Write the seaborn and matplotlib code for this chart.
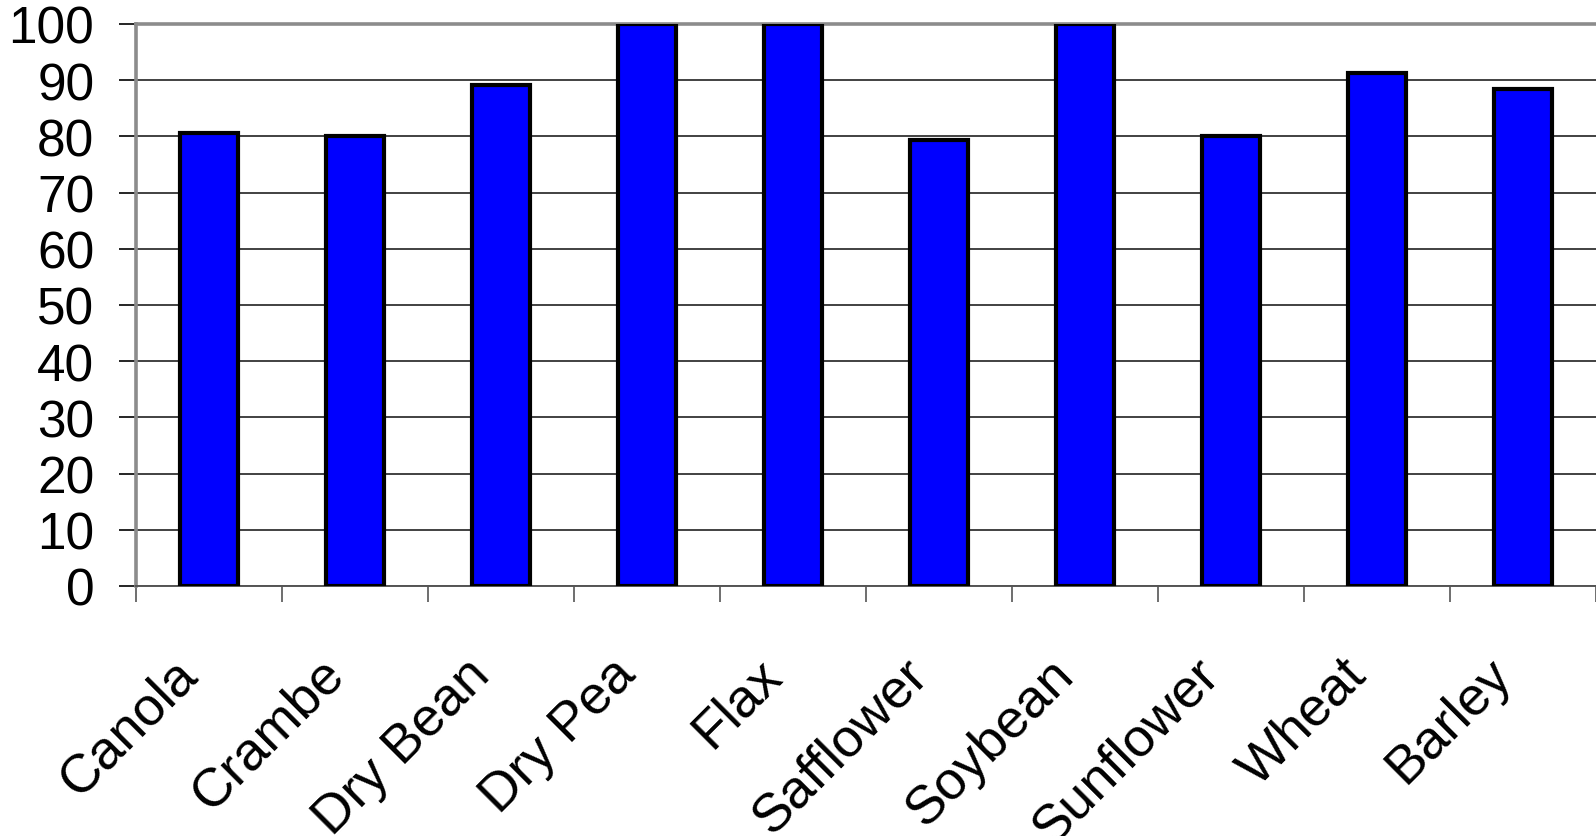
import matplotlib
matplotlib.use("Agg")
import numpy as np
import pandas as pd
import seaborn as sns
import matplotlib.pyplot as plt
from matplotlib.transforms import ScaledTranslation

# 数据
crops = ["Canola", "Crambe", "Dry Bean", "Dry Pea", "Flax",
         "Safflower", "Soybean", "Sunflower", "Wheat", "Barley"]
values = [80.6, 80.0, 89.1, 100, 100, 79.3, 100, 80.0, 91.3, 88.5]
y_ticks = list(range(0, 101, 10))

df = pd.DataFrame({"crop": crops, "value": values})

sns.set_style("white")
plt.rcParams["font.family"] = ["Liberation Sans", "DejaVu Sans"]
plt.rcParams["text.color"] = "black"

fig = plt.figure(figsize=(15.96, 8.37), dpi=100)
ax = fig.add_axes([136 / 1596, 1 - 587 / 837, 1 - 136 / 1596, (587 - 25) / 837])

sns.barplot(data=df, x="crop", y="value", color="#0000FF", saturation=1,
            edgecolor="black", linewidth=3.0, width=0.4, ax=ax, zorder=3)

ax.set_xlim(-0.5, len(crops) - 0.5)
ax.set_ylim(0, 100)
ax.set_yticks(y_ticks)
ax.set_xlabel("")
ax.set_ylabel("")

# 网格线
ax.yaxis.grid(True, color="#333333", linewidth=1.3, zorder=0)
ax.xaxis.grid(False)
ax.set_axisbelow(True)

# 边框
for s in ["left", "top"]:
    ax.spines[s].set_color("#8c8c8c")
    ax.spines[s].set_linewidth(2.6)
ax.spines["bottom"].set_color("#555555")
ax.spines["bottom"].set_linewidth(1.4)
ax.spines["right"].set_visible(False)

# 刻度
ax.tick_params(axis="y", direction="out", length=12, width=1.2, color="black",
               pad=18, labelsize=37, labelcolor="black", left=True)
ax.set_xticks(np.arange(-0.5, len(crops), 1.0), minor=True)
ax.tick_params(axis="x", which="minor", direction="out", length=11.5, width=1.2,
               color="#555555", bottom=True)
ax.tick_params(axis="x", which="major", length=0, pad=45, labelsize=39,
               labelcolor="black")
shift = ScaledTranslation(-37 / 100, 0, fig.dpi_scale_trans)
for lab in ax.get_xticklabels():
    lab.set_rotation(45)
    lab.set_ha("right")
    lab.set_rotation_mode("anchor")
    lab.set_transform(lab.get_transform() + shift)

fig.savefig("out.png", dpi=100, facecolor="white")
